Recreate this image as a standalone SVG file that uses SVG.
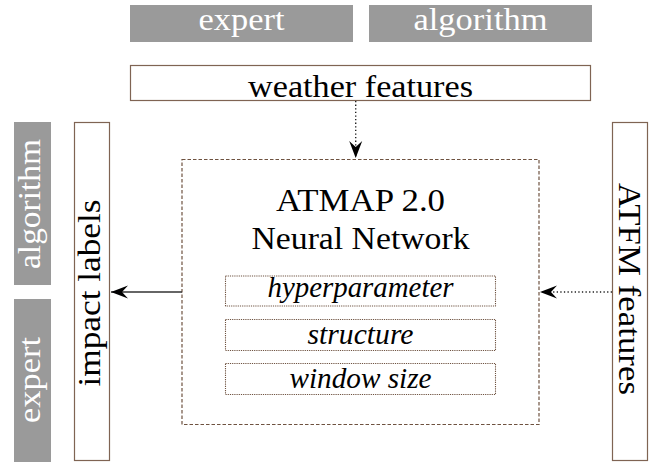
<svg xmlns="http://www.w3.org/2000/svg" width="657" height="464" viewBox="0 0 657 464">
<style>
.gray{fill:#9a9a9a;stroke:none}
.gt{fill:#ffffff;font-family:"Liberation Serif","Times New Roman",serif;font-size:32px;text-anchor:middle}
.t{fill:#000000;font-family:"Liberation Serif","Times New Roman",serif;font-size:32px;text-anchor:middle}
.it{font-style:italic;font-size:30px}
.box{fill:#ffffff;stroke:#7f6453;stroke-width:1.2}
.main{fill:#ffffff;stroke:#6e5240;stroke-width:1.2;stroke-dasharray:3.5 2}
.sub{fill:#ffffff;stroke:#6e5240;stroke-width:1.1;stroke-dasharray:1.2 1}
.solid{stroke:#333333;stroke-width:1.3;fill:none}
.dot{stroke:#222222;stroke-width:1.4;fill:none;stroke-dasharray:1.3 2.3}
</style>
<defs>
<marker id="ah" viewBox="-18 -8 19 16" refX="0" refY="0" markerWidth="19" markerHeight="16" markerUnits="userSpaceOnUse" orient="auto">
<path d="M0,0 L-17,-6.5 L-11,0 L-17,6.5 Z" fill="#000000"/>
</marker>
</defs>
<g id="expert-top">
<rect class="gray" x="130" y="5" width="223" height="37"/>
<text class="gt" x="241.5" y="29.5" textLength="86" lengthAdjust="spacingAndGlyphs">expert</text>
</g>
<g id="algorithm-top">
<rect class="gray" x="369" y="5" width="223" height="37"/>
<text class="gt" x="480.5" y="29.5" textLength="134" lengthAdjust="spacingAndGlyphs">algorithm</text>
</g>
<g id="weather-features">
<rect class="box" x="130.5" y="65.5" width="460" height="35"/>
<text class="t" x="360.5" y="96.5" textLength="225" lengthAdjust="spacingAndGlyphs">weather features</text>
</g>
<g id="algorithm-left">
<rect class="gray" x="14" y="122" width="37" height="163"/>
<text class="gt" transform="translate(40,204) rotate(-90)" x="0" y="0" textLength="130" lengthAdjust="spacingAndGlyphs">algorithm</text>
</g>
<g id="expert-left">
<rect class="gray" x="14" y="299" width="37" height="163"/>
<text class="gt" transform="translate(40,380) rotate(-90)" x="0" y="0" textLength="86" lengthAdjust="spacingAndGlyphs">expert</text>
</g>
<g id="impact-labels">
<rect class="box" x="74.5" y="122.5" width="35" height="338"/>
<text class="t" transform="translate(100,293) rotate(-90)" x="0" y="0" textLength="187" lengthAdjust="spacingAndGlyphs">impact labels</text>
</g>
<g id="atfm-features">
<rect class="box" x="612.5" y="122.5" width="35" height="338"/>
<text class="t" transform="translate(619,289) rotate(90)" x="0" y="0" textLength="212" lengthAdjust="spacingAndGlyphs">ATFM features</text>
</g>
<g id="neural-network">
<rect class="main" x="182" y="159.5" width="357" height="265"/>
<text class="t" x="360.5" y="211" textLength="169" lengthAdjust="spacingAndGlyphs">ATMAP 2.0</text>
<text class="t" x="360.5" y="249.3" textLength="218" lengthAdjust="spacingAndGlyphs">Neural Network</text>
</g>
<g id="hyperparameter">
<rect class="sub" x="225.5" y="276" width="270" height="30"/>
<text class="t it" x="360.5" y="297" textLength="186" lengthAdjust="spacingAndGlyphs">hyperparameter</text>
</g>
<g id="structure">
<rect class="sub" x="225.5" y="319.5" width="270" height="31"/>
<text class="t it" x="360.5" y="343.5" textLength="106" lengthAdjust="spacingAndGlyphs">structure</text>
</g>
<g id="window-size">
<rect class="sub" x="225.5" y="363.5" width="270" height="31"/>
<text class="t it" x="360.5" y="388" textLength="142" lengthAdjust="spacingAndGlyphs">window size</text>
</g>
<g id="connectors">
<line class="dot" x1="355.7" y1="101" x2="355.7" y2="158" marker-end="url(#ah)"/>
<line class="solid" x1="182" y1="292" x2="111" y2="292" marker-end="url(#ah)"/>
<line class="dot" x1="612" y1="292" x2="540" y2="292" marker-end="url(#ah)"/>
</g>
</svg>
